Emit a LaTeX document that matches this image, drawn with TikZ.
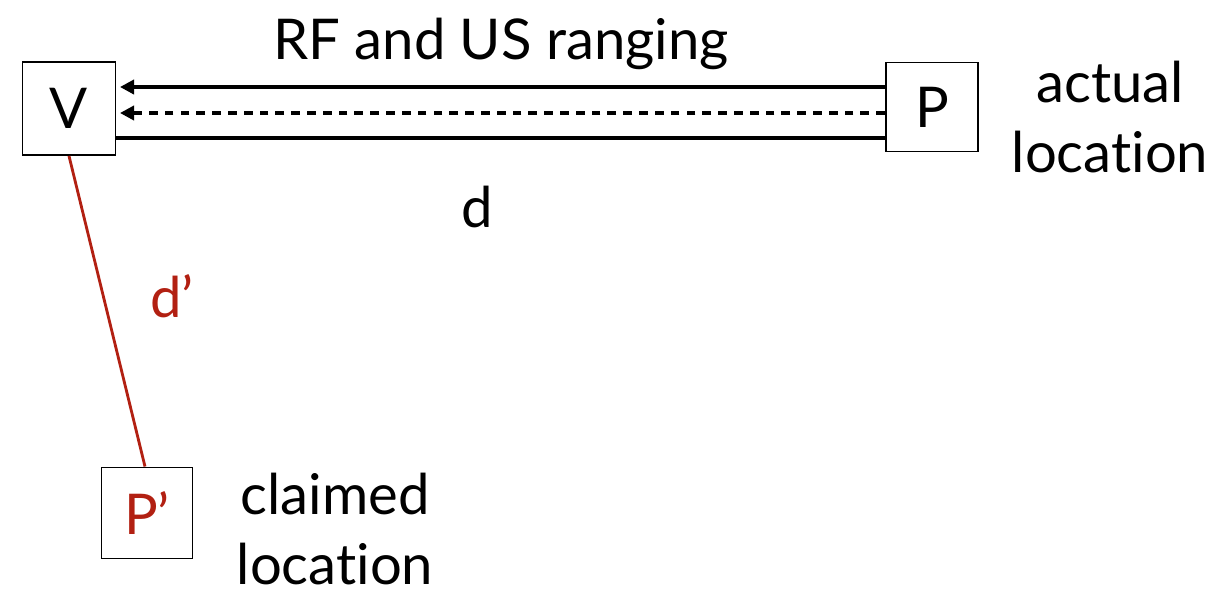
\documentclass[tikz,border=0pt]{standalone}
\usepackage{fontspec}
\setmainfont{Lato}[Ligatures=NoCommon]
\usepackage{tikz}
\usetikzlibrary{arrows.meta}
\definecolor{claimred}{RGB}{178,32,18}

\begin{document}
\begin{tikzpicture}[
    x=0.02cm, y=-0.02cm,
    station/.style={rectangle, draw, line width=1.1pt, minimum width=1.86cm, minimum height=1.86cm, inner sep=0pt, font=\fontsize{32}{38}\selectfont},
    lbl/.style={font=\fontsize{32}{38}\selectfont, inner sep=0pt},
    arrow/.style={-{Triangle[length=8pt, width=8pt]}, line width=2.3pt, shorten >=2pt},
    ranging/.style={line width=2.3pt}
]
\useasboundingbox (0,0) rectangle (1220,599);

% Verifier
\node[station] (V) at (69,108.5) {V};

% Prover, actual location
\node[station, minimum width=1.84cm, minimum height=1.78cm] (P) at (932,107) {P};
\node[lbl, align=center] (actual) at (1110,117) {actual\\[2pt]location};

% Prover, claimed location
\node[station, minimum width=1.82cm, minimum height=1.82cm, text=claimred] (Pc) at (147,513) {P’};
\node[lbl, align=center] (claimed) at (335,529) {claimed\\[2pt]location};

% Ranging signals
\node[lbl] (title) at (501,44) {RF and US ranging};
\draw[arrow] ([yshift=0.40cm]P.west) -- ([yshift=0.40cm]P.west -| V.east);
\draw[arrow, dash pattern=on 5pt off 4pt] ([yshift=-0.12cm]P.west) -- ([yshift=-0.12cm]P.west -| V.east);
\draw[ranging] ([yshift=-0.62cm]P.west) -- ([yshift=-0.62cm]P.west -| V.east) node[lbl, pos=0.53, below=26pt] (d) {d};

% Claimed distance
\draw[claimred, line width=1.6pt] (V.south) -- ([xshift=-0.04cm]Pc.north);
\node[lbl, text=claimred] (dc) at (172,296) {d’};

\end{tikzpicture}
\end{document}
